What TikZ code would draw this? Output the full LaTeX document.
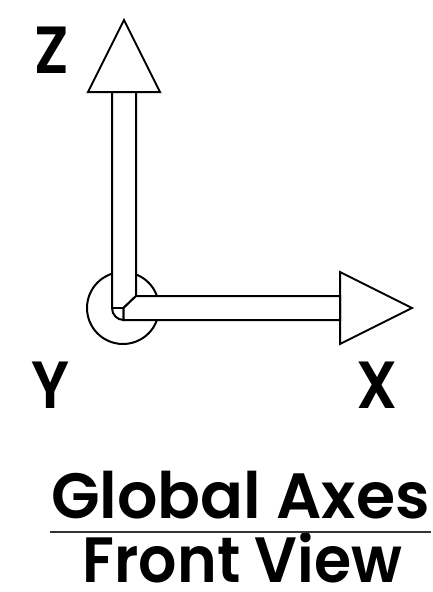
\documentclass[tikz,border=0pt]{standalone}
\usepackage{fontspec}
\setmainfont{Poppins}
\newfontfamily\titlefont{Poppins SemiBold}
\tikzset{
  axisline/.style={line width=1.5pt, black, line join=miter},
  axislabel/.style={anchor=base, inner sep=0pt, xscale=0.9, transform shape, font=\fontsize{50}{50}\titlefont},
  titletext/.style={anchor=base, inner sep=0pt, transform shape, font=\fontsize{48}{48}\titlefont}
}

\begin{document}
\begin{tikzpicture}[x=0.75pt, y=-0.75pt]
\useasboundingbox (0,0) rectangle (432,592);

% Y axis circle
\draw[axisline] (123,308) circle (36);

% Z arrow
\filldraw[axisline, fill=white] (124,20) -- (160,92) -- (88,92) -- cycle;
\filldraw[axisline, fill=white]
  (112,92) -- (112,308) arc[start angle=180, end angle=90, x radius=11.5, y radius=12]
  -- (123.5,308) -- (136,296) -- (136,92) -- cycle;

% X arrow
\filldraw[axisline, fill=white] (340,272) -- (412,308) -- (340,344) -- cycle;
\filldraw[axisline, fill=white]
  (340,296) -- (136,296) -- (123.5,308) -- (123.5,320) -- (340,320) -- cycle;

% Origin corner
\draw[axisline] (112,308) -- (123.5,308);

% Labels
\node[axislabel] (zlabel) at (51.5,74) {Z};
\node[axislabel] (ylabel) at (51,408) {Y};
\node[axislabel] (xlabel) at (377,408) {X};

% Title
\node[titletext, xscale=0.99] (globalaxes) at (240.5,518) {Global Axes};
\node[titletext, xscale=0.94] (frontview) at (242.5,582) {Front View};
\draw[line width=1pt, black!80] (50,532) -- (431,532);
\end{tikzpicture}
\end{document}
